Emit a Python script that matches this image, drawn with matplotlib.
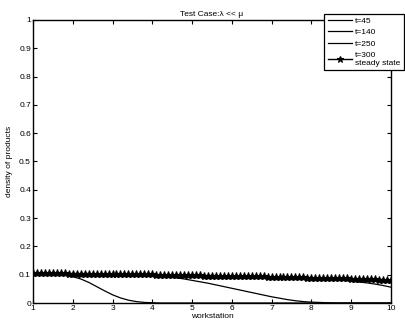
import matplotlib
matplotlib.use("Agg")
import matplotlib.pyplot as plt
import numpy as np

# workstation grids (step 0.2 for transients, 0.1 for steady state)
x = np.round(np.linspace(1, 10, 46), 1)
x_ss = np.round(np.linspace(1, 10, 91), 1)

t45 = [0.105, 0.104, 0.103, 0.101, 0.098, 0.093, 0.085, 0.073, 0.058, 0.043,
       0.029, 0.018, 0.010, 0.005, 0.002, 0.001] + [0.0] * 30

t140 = [0.105, 0.105, 0.104, 0.104, 0.104, 0.103, 0.103, 0.103, 0.102, 0.102,
        0.101, 0.101, 0.100, 0.099, 0.098, 0.097, 0.095, 0.092, 0.089, 0.085,
        0.080, 0.075, 0.070, 0.064, 0.058, 0.052, 0.046, 0.040, 0.034, 0.028,
        0.022, 0.017, 0.012, 0.008, 0.005, 0.003, 0.002, 0.001] + [0.0] * 8

t250 = [0.105, 0.105, 0.105, 0.104, 0.104, 0.104, 0.103, 0.103, 0.103, 0.102,
        0.102, 0.101, 0.101, 0.100, 0.100, 0.099, 0.099, 0.098, 0.098, 0.097,
        0.097, 0.096, 0.096, 0.095, 0.095, 0.094, 0.094, 0.093, 0.093, 0.092,
        0.091, 0.091, 0.090, 0.089, 0.088, 0.087, 0.085, 0.084, 0.082, 0.080,
        0.077, 0.074, 0.071, 0.067, 0.062, 0.056]

t300 = [0.106, 0.106, 0.106, 0.105, 0.105, 0.105, 0.105, 0.105, 0.105, 0.104,
        0.104, 0.104, 0.104, 0.104, 0.104, 0.103, 0.103, 0.103, 0.103, 0.103,
        0.103, 0.102, 0.102, 0.102, 0.102, 0.101, 0.101, 0.101, 0.101, 0.101,
        0.101, 0.100, 0.100, 0.100, 0.100, 0.099, 0.099, 0.099, 0.099, 0.098,
        0.098, 0.098, 0.098, 0.097, 0.097, 0.097, 0.097, 0.096, 0.096, 0.096,
        0.096, 0.095, 0.095, 0.095, 0.095, 0.094, 0.094, 0.094, 0.094, 0.093,
        0.093, 0.093, 0.093, 0.092, 0.092, 0.092, 0.091, 0.091, 0.091, 0.090,
        0.090, 0.089, 0.089, 0.089, 0.089, 0.088, 0.088, 0.087, 0.087, 0.087,
        0.086, 0.086, 0.086, 0.085, 0.085, 0.084, 0.084, 0.083, 0.083, 0.082,
        0.082]

labels = ["t=45", "t=140", "t=250", "t=300\nsteady state"]
xticks = list(range(1, 11))
yticks = [0, 0.1, 0.2, 0.3, 0.4, 0.5, 0.6, 0.7, 0.8, 0.9, 1]
yticklabels = ["0", "0.1", "0.2", "0.3", "0.4", "0.5", "0.6", "0.7",
               "0.8", "0.9", "1"]

plt.rcParams["font.family"] = ["Liberation Sans", "DejaVu Sans"]

fig = plt.figure(figsize=(4.05, 3.22), dpi=100)
ax = fig.add_axes([0.0815, 0.059, 0.8835, 0.879])

ax.plot(x, t45, color="black", lw=0.9, label=labels[0])
ax.plot(x, t140, color="black", lw=0.9, label=labels[1])
ax.plot(x, t250, color="black", lw=0.9, label=labels[2])
ax.plot(x_ss, t300, color="black", lw=1.0, marker="*", markersize=6,
        markeredgewidth=0.8, label=labels[3])

ax.set_xlim(1, 10)
ax.set_ylim(0, 1)
ax.set_xticks(xticks)
ax.set_yticks(yticks)
ax.set_yticklabels(yticklabels)
ax.tick_params(direction="in", length=3, width=0.8, labelsize=6, pad=1.5,
               top=True, right=True)
for s in ax.spines.values():
    s.set_linewidth(1.0)

ax.set_xlabel("workstation", fontsize=6, labelpad=1)
ax.set_ylabel("density of products", fontsize=6, labelpad=4)
ax.set_title("Test Case:λ << μ", fontsize=6, pad=3)

leg = fig.legend(loc="upper right", bbox_to_anchor=(0.997, 0.958),
                 fontsize=6, frameon=True, fancybox=False,
                 handlelength=2.9, handletextpad=0.4, labelspacing=0.45,
                 borderpad=0.4, borderaxespad=0, markerscale=0.8)
leg.get_frame().set_edgecolor("black")
leg.get_frame().set_linewidth(0.9)
leg.get_frame().set_alpha(1)

fig.savefig("out.png", dpi=100)
